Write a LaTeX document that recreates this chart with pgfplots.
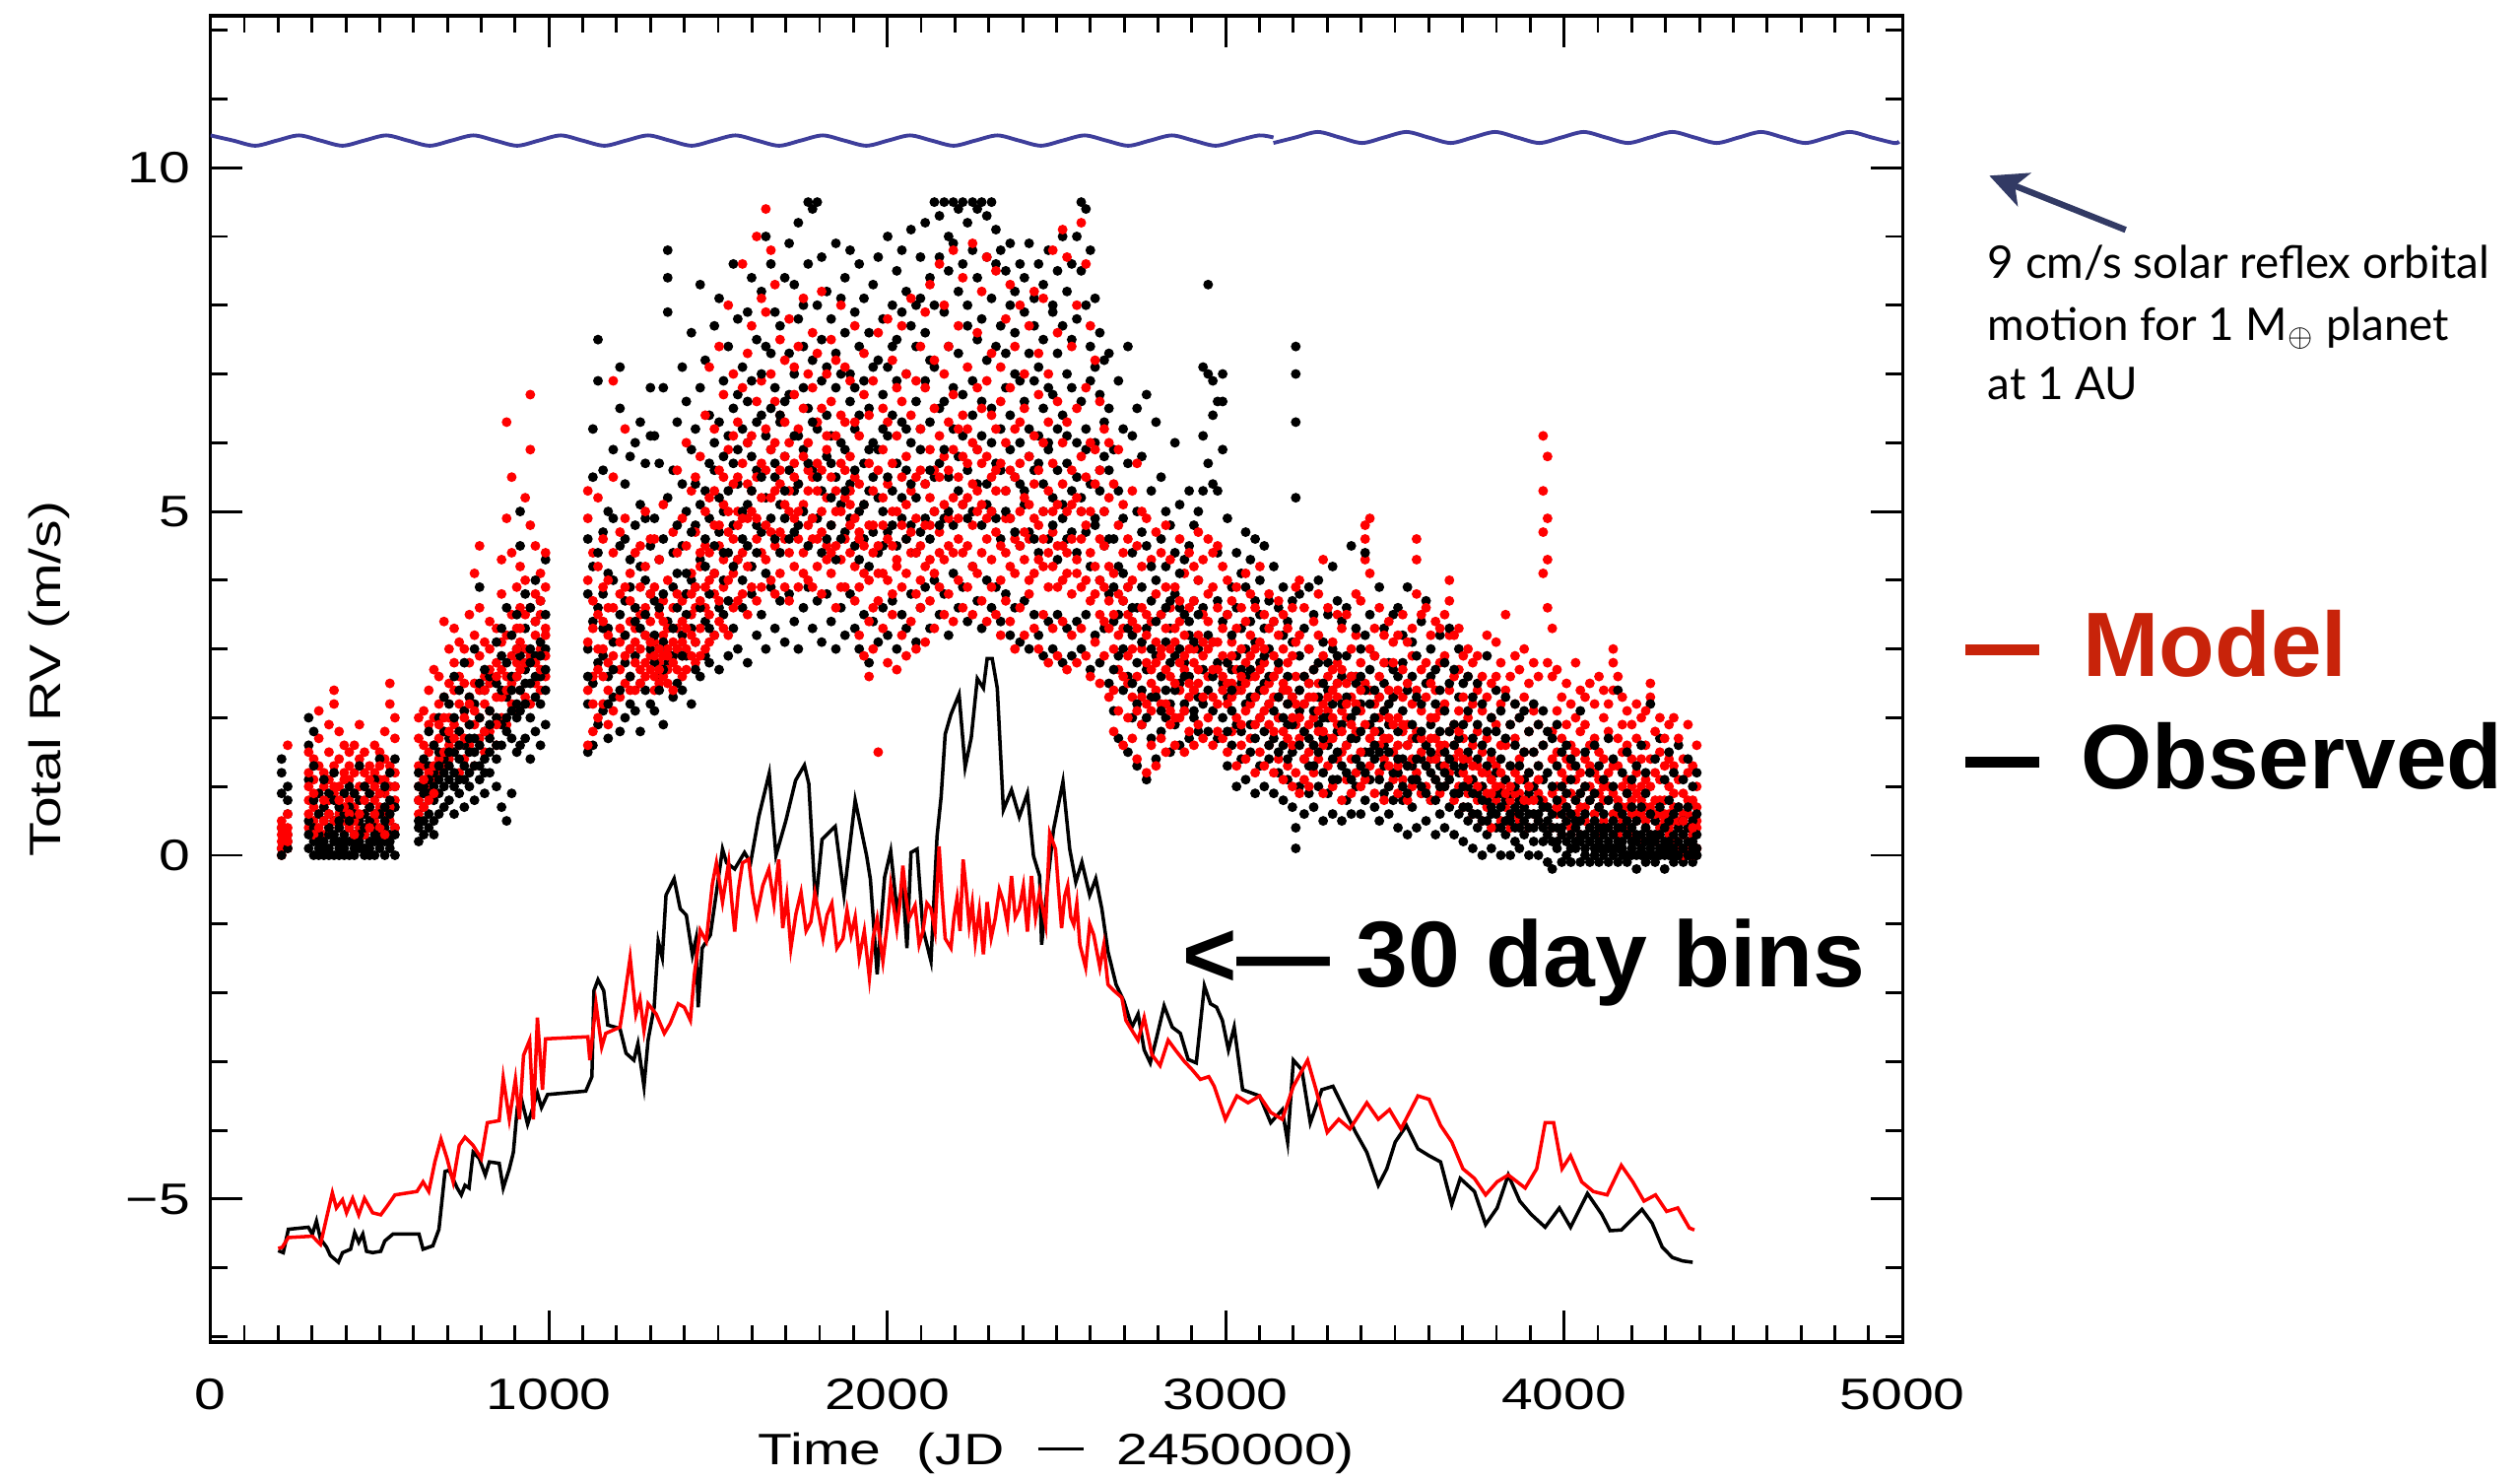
\documentclass[border=0pt]{standalone}
\usepackage{fontspec}
\usepackage{pgfplots}
\pgfplotsset{compat=1.18}
\usepackage{pgfplotstable}
\usetikzlibrary{arrows.meta}
\setmainfont{Liberation Sans}
\newfontfamily\tickfont{Liberation Sans}[FakeStretch=1.28]
\newfontfamily\gillfont{Lato}
\definecolor{wave}{RGB}{62,62,155}
\definecolor{arrowc}{RGB}{50,58,100}
\definecolor{modelred}{RGB}{200,35,10}
\newcommand\tf{\tickfont\fontsize{12.7pt}{15pt}\selectfont}

\pgfplotstableread{
x b1 b2 b3 b4 b5 b6 r1 r2 r3 r4 r5 r6
210 0.1 0.4 0.9 1.2 1.4 0.0 0.0 0.2 0.3 0.1 0.5 0.4
228 0.2 0.3 0.6 1.0 0.1 0.8 0.1 0.4 0.6 0.3 1.6 0.2
290 0.1 0.5 1.1 1.6 2.0 0.3 0.4 0.8 1.2 0.6 1.0 1.5
305 0.0 0.2 0.4 0.8 1.3 1.8 0.5 1.1 0.7 1.4 0.3 0.9
320 0.1 0.0 0.3 0.6 0.9 0.2 0.6 0.9 1.3 0.4 1.7 2.1
335 0.0 0.1 0.5 0.2 0.7 1.1 0.3 0.7 1.0 1.2 0.5 0.8
350 0.1 0.3 0.0 0.6 0.4 0.9 0.8 0.4 1.1 1.5 0.6 1.9
365 0.2 0.0 0.5 0.3 0.8 1.2 0.9 1.3 0.5 2.4 2.2 1.0
380 0.0 0.2 0.1 0.4 0.7 0.5 0.6 1.0 0.4 1.4 0.8 1.8
395 0.1 0.3 0.6 0.0 0.9 0.2 0.5 0.9 1.2 0.7 1.6 1.1
410 0.0 0.4 0.2 0.7 1.0 0.5 0.8 1.1 0.4 1.3 0.6 1.5
425 0.1 0.0 0.3 0.6 0.2 0.9 0.7 1.2 0.5 0.9 1.6 0.3
440 0.2 0.1 0.5 0.3 0.8 1.3 0.4 0.8 1.0 1.4 0.6 1.9
455 0.0 0.3 0.1 0.6 0.4 1.0 0.6 1.0 0.3 1.2 0.8 1.5
470 0.1 0.2 0.5 0.0 0.7 0.9 0.9 0.5 1.3 0.7 1.1 0.4
485 0.0 0.4 0.2 0.6 1.1 0.3 0.5 0.8 1.2 0.6 1.6 1.0
500 0.1 0.3 0.6 0.2 0.9 1.4 0.7 1.1 0.4 1.5 0.9 1.3
515 0.2 0.0 0.4 0.7 0.5 1.0 0.6 0.9 1.4 0.3 1.1 1.8
530 0.1 0.3 0.2 0.6 0.8 1.2 0.5 1.0 0.7 1.3 2.2 2.5
545 0.0 0.4 0.7 0.3 1.0 1.4 0.8 0.4 1.2 1.7 2.0 1.0
615 0.2 0.5 0.8 1.2 0.4 1.0 0.6 1.0 1.3 0.8 1.7 2.0
630 0.3 0.7 1.0 0.5 1.4 0.9 0.9 1.3 1.6 0.7 2.1 1.1
645 0.4 0.9 1.3 0.6 1.1 1.8 1.0 1.5 1.2 1.9 2.4 0.8
660 0.5 0.8 1.2 1.6 1.0 0.3 1.1 1.6 2.0 1.3 2.7 0.9
675 0.6 1.1 0.9 1.5 2.0 1.3 1.2 1.7 1.4 2.2 1.9 2.6
690 0.7 1.0 1.4 1.8 1.2 2.3 1.3 1.8 2.3 1.5 3.4 2.0
705 0.8 1.3 1.1 1.7 2.2 1.5 1.4 2.0 1.6 2.5 3.0 1.8
720 0.6 1.2 1.5 2.0 1.0 2.6 1.5 1.9 2.4 1.7 2.8 3.3
735 0.9 1.4 1.8 1.1 2.4 1.6 1.2 1.8 2.2 2.6 1.6 3.1
750 0.7 1.1 1.6 2.1 1.3 2.8 1.4 2.1 1.7 2.5 3.0 2.0
765 1.0 1.5 1.2 1.9 2.3 1.7 1.6 2.3 1.9 2.8 3.5 2.2
780 0.8 1.3 1.7 2.2 3.0 1.5 1.3 1.9 2.5 2.1 3.2 4.1
795 1.1 1.6 1.3 2.0 3.9 2.5 1.7 2.4 2.0 2.9 4.5 3.6
810 0.9 1.4 1.8 2.4 1.2 2.7 1.5 2.2 1.8 2.6 3.1 2.4
825 1.2 1.7 1.5 2.1 2.6 1.9 1.8 2.5 2.1 3.0 2.7 3.4
845 1.0 1.6 2.0 2.5 1.4 3.1 1.6 2.3 2.8 1.9 3.3 2.6
860 0.7 1.9 1.6 2.4 2.9 3.3 2.0 2.7 2.3 3.1 3.8 4.3
875 0.5 1.8 2.3 2.0 2.8 3.6 1.9 2.6 3.2 2.4 4.9 6.3
890 0.9 2.1 1.7 2.6 3.2 2.4 2.2 2.9 2.5 3.5 4.4 5.5
905 1.5 2.0 2.6 3.0 2.2 3.5 2.1 2.8 3.3 2.6 3.9 3.0
915 1.6 2.4 2.9 4.5 5.0 2.1 2.4 3.1 2.7 3.6 4.2 3.3
930 1.7 2.2 2.7 3.3 2.5 3.8 2.3 3.0 3.5 2.8 4.0 5.2
945 1.4 2.5 2.0 3.0 3.6 2.8 2.2 2.9 3.6 4.8 5.9 6.7
960 1.8 2.3 2.9 2.6 3.4 4.0 2.5 3.2 2.8 3.8 4.5 3.4
975 1.6 2.6 2.2 3.1 3.7 2.9 2.4 3.0 3.5 2.7 4.1 3.7
990 1.9 2.4 3.0 3.5 2.7 4.3 2.6 3.3 2.9 3.9 3.2 4.4
1115 1.5 2.2 3.0 3.8 4.6 2.6 1.6 2.4 3.1 4.0 4.9 5.3
1130 1.6 2.5 3.4 4.2 5.5 6.2 1.8 2.6 3.3 2.2 4.4 3.7
1145 1.9 2.8 3.6 6.9 7.5 4.4 2.0 2.7 3.5 4.2 5.2 3.0
1160 2.1 2.9 3.8 4.7 5.6 3.3 2.2 3.0 3.9 2.6 4.6 3.4
1175 1.7 2.6 3.3 4.1 2.2 5.0 1.9 2.8 3.2 2.4 4.0 3.6
1190 2.3 3.1 4.0 4.9 5.9 2.7 2.1 2.9 3.6 4.4 5.5 6.9
1210 1.8 2.4 3.5 4.5 6.5 7.1 2.3 3.1 2.7 3.8 4.7 3.3
1225 2.0 2.8 3.7 4.6 5.4 3.2 2.5 3.2 2.9 3.9 4.9 6.2
1240 2.2 3.0 3.9 4.3 5.8 2.6 2.6 3.4 3.0 2.4 4.1 3.7
1255 2.1 2.9 3.4 4.8 6.0 3.6 2.4 3.3 2.8 3.6 4.4 3.1
1270 1.8 2.5 3.3 4.2 5.1 6.3 2.7 3.5 3.0 2.5 4.5 3.9
1285 2.4 3.2 4.0 4.9 5.7 3.5 2.8 3.6 3.2 4.2 2.6 5.0
1300 2.2 3.0 3.8 4.5 6.1 6.8 2.9 3.4 2.7 3.8 4.6 3.1
1312 2.1 3.7 2.8 4.9 3.2 6.1 2.6 3.1 2.4 3.9 2.9 4.6
1326 2.6 4.3 3.0 5.7 2.4 3.6 2.8 3.5 2.5 4.3 3.0 2.7
1338 1.9 3.1 4.6 2.7 6.8 3.8 3.2 2.6 3.7 2.9 5.1 3.4
1351 2.8 5.2 3.4 7.9 8.8 8.4 2.5 3.0 2.7 4.0 3.3 2.9
1367 2.3 3.9 2.9 4.4 5.6 3.3 2.9 2.4 3.6 3.1 4.7 2.8
1379 3.0 2.5 4.1 3.6 6.3 4.8 3.3 2.7 3.0 4.4 3.8 5.6
1394 2.4 4.5 3.2 5.4 2.9 7.1 2.6 3.4 2.9 3.7 4.9 3.1
1406 2.9 3.5 5.0 4.1 6.6 3.8 3.0 3.8 2.7 4.5 3.3 6.0
1421 2.2 4.0 3.3 5.9 4.7 7.6 3.5 2.9 4.1 3.2 5.3 3.8
1433 3.1 2.7 4.8 3.9 6.2 5.4 2.8 3.6 3.1 4.7 3.9 5.5
1447 2.6 4.3 3.6 6.8 5.1 8.3 3.3 4.2 2.9 3.7 5.8 4.4
1462 3.4 2.9 5.3 4.2 7.2 4.6 3.6 3.0 4.5 3.9 5.0 6.4
1474 2.8 4.9 3.8 5.7 6.4 3.3 3.1 4.0 3.5 5.2 4.4 7.1
1489 3.2 4.1 5.6 4.5 7.7 6.0 3.8 3.2 4.8 4.1 6.2 5.3
1503 2.7 3.6 4.7 6.3 5.2 8.1 3.4 4.5 3.7 5.6 4.8 7.4
1516 3.5 5.0 4.0 6.9 5.8 4.4 3.9 3.3 5.1 4.3 6.7 5.5
1530 2.9 4.4 6.1 5.3 7.4 3.7 3.2 4.7 4.0 5.9 5.0 8.0
1545 3.3 4.8 5.7 4.2 6.5 8.6 4.1 3.6 5.4 4.6 7.0 6.1
1558 3.0 5.4 4.3 6.7 5.9 7.8 3.7 5.0 4.3 6.3 5.5 4.8
1572 3.6 4.6 6.2 5.0 7.1 4.0 4.4 3.8 5.7 4.9 6.8 8.6
1587 2.8 5.1 4.5 6.0 7.9 6.6 3.5 4.9 4.2 5.4 7.3 6.0
1599 3.8 4.2 5.8 6.9 5.3 8.4 4.2 5.3 3.9 6.1 5.0 7.7
1614 3.2 5.6 4.8 6.3 7.5 4.4 4.6 3.7 5.5 4.9 6.6 9.0
1628 3.5 4.7 6.4 5.5 8.2 7.0 3.9 5.2 4.4 6.9 5.7 8.1
1641 3.0 5.2 4.1 6.1 7.4 9.0 4.3 5.6 4.8 6.2 7.9 9.4
1656 3.9 4.9 5.9 7.3 6.5 8.6 4.0 4.7 5.9 5.2 7.0 8.8
1668 3.3 5.5 4.6 6.8 5.7 7.9 4.5 3.8 5.3 6.6 6.0 8.3
1683 3.7 4.4 6.3 5.1 7.7 6.4 4.1 5.4 4.7 6.4 5.6 7.5
1697 3.1 5.8 4.9 6.6 8.4 5.3 4.6 3.9 5.8 5.1 7.2 6.3
1710 3.8 4.6 6.7 5.6 7.3 8.9 3.7 5.0 4.4 6.0 5.3 7.8
1725 3.4 5.3 4.7 7.0 6.1 8.3 4.2 5.7 4.9 6.7 5.5 7.1
1737 3.0 4.8 6.1 5.4 7.8 9.2 3.9 4.6 5.4 6.2 7.4 5.0
1752 3.6 5.9 5.0 6.8 7.4 8.0 4.4 5.1 4.1 6.5 5.8 8.1
1766 3.9 4.5 6.5 5.7 8.6 9.5 4.0 5.6 4.8 6.0 7.0 5.3
1779 3.3 5.6 4.9 7.2 6.3 9.4 4.6 3.9 5.5 4.9 6.8 7.6
1793 3.7 4.9 6.2 5.5 8.0 9.5 4.2 5.3 4.6 6.3 5.7 7.3
1806 3.1 5.3 4.4 6.9 7.5 8.7 3.8 4.7 5.6 5.0 6.5 8.2
1821 3.8 4.6 5.8 6.4 7.1 8.2 4.5 5.2 4.3 5.9 7.0 6.1
1834 3.4 5.7 4.8 6.1 7.8 5.2 4.1 4.8 5.5 4.4 6.6 7.5
1848 3.0 4.3 5.5 6.8 7.3 8.9 3.6 5.0 4.5 6.1 5.3 7.2
1863 3.6 5.1 4.6 6.0 8.1 7.0 4.3 3.9 5.7 5.0 6.4 8.0
1875 3.2 4.7 5.9 5.3 7.6 8.4 3.9 4.6 5.2 6.3 5.6 7.1
1890 3.8 5.4 4.9 6.6 7.0 8.8 4.4 5.3 4.8 5.8 6.9 5.1
1904 3.3 4.5 6.2 5.6 7.9 6.8 3.7 4.2 5.5 4.9 6.3 7.7
1917 3.0 5.0 4.3 6.4 7.4 8.6 3.2 4.6 3.9 5.4 6.1 4.7
1931 3.5 4.6 5.7 5.1 6.9 8.1 2.9 4.1 5.1 4.5 6.7 7.3
1946 2.8 4.2 5.3 6.5 7.6 5.9 3.4 2.6 4.8 4.0 5.7 6.4
1958 3.4 5.5 4.7 6.0 8.3 7.1 3.0 4.4 3.6 5.3 4.8 6.9
1973 3.1 4.4 5.9 5.2 7.2 8.7 1.5 3.7 4.5 5.6 4.1 7.6
1987 3.6 5.0 4.5 6.7 7.8 6.2 3.3 4.8 4.1 5.9 5.2 6.5
2001 3.2 4.7 6.1 5.5 7.1 9.0 2.8 4.0 5.4 4.6 6.3 7.8
2015 3.7 5.3 4.8 6.4 8.0 7.4 3.5 4.5 3.8 5.7 5.0 7.2
2028 3.0 4.5 5.7 6.9 7.5 8.5 2.7 4.2 5.0 4.3 6.1 6.8
2043 3.5 4.9 5.2 6.3 7.9 8.8 3.2 3.9 5.5 4.8 6.6 7.7
2056 3.3 5.6 4.6 7.0 6.2 8.2 2.9 4.6 4.1 5.8 5.1 7.0
2070 3.8 4.8 6.0 5.4 7.7 9.1 3.4 4.4 5.3 4.7 6.4 8.1
2085 3.1 5.2 4.4 6.6 7.4 8.0 3.0 3.8 4.9 5.5 4.4 6.9
2098 3.6 4.7 5.9 6.2 8.1 8.7 3.6 4.5 4.0 5.6 6.2 7.4
2112 3.9 5.4 4.9 6.9 7.6 9.2 3.1 4.2 5.4 4.8 6.8 7.9
2126 3.3 4.6 6.3 5.6 8.4 7.2 3.7 4.8 4.3 5.9 5.2 8.3
2139 4.0 5.0 5.5 7.1 8.0 9.5 3.3 4.1 5.6 5.0 6.5 7.2
2154 3.5 5.7 4.8 6.5 8.7 9.3 3.9 4.7 4.4 6.1 5.5 8.6
2168 3.8 4.9 6.6 5.9 7.9 9.5 3.5 4.3 5.8 5.1 7.0 8.0
2181 3.2 5.5 5.0 7.4 8.5 9.0 3.8 4.9 4.5 6.3 5.6 7.4
2195 4.1 4.8 6.2 6.8 8.9 9.5 3.4 4.4 5.2 5.9 6.7 8.8
2210 3.6 5.8 5.3 7.3 8.2 9.4 4.0 4.6 5.5 4.9 6.2 7.7
2223 3.9 5.1 6.7 6.1 8.6 9.5 3.6 5.1 4.4 6.4 5.8 8.4
2237 3.4 5.6 4.9 7.7 8.0 9.2 3.9 4.5 5.7 5.2 7.1 6.2
2252 4.2 5.0 6.4 6.9 8.8 9.5 3.5 4.8 4.2 6.0 5.4 8.9
2266 3.7 5.9 5.4 7.5 8.4 9.4 4.1 5.0 5.9 5.3 6.8 7.6
2279 3.3 4.8 6.1 6.6 7.8 9.5 3.7 4.4 5.1 6.5 5.7 8.2
2294 4.0 5.4 5.1 7.2 8.7 9.3 3.4 4.9 4.6 5.8 6.9 8.7
2308 3.6 5.0 6.5 6.0 8.1 9.5 3.9 4.3 5.5 5.0 6.4 7.3
2321 3.9 5.7 4.9 7.4 8.6 9.1 3.5 4.7 5.3 6.2 5.6 8.5
2335 3.4 4.6 6.2 5.6 7.7 8.8 3.2 4.5 4.0 5.7 6.6 7.1
2350 3.8 5.3 5.0 6.8 7.3 8.5 3.7 4.9 4.4 6.0 5.3 7.8
2363 3.2 4.9 5.9 6.4 8.0 8.9 3.4 4.2 5.6 4.9 6.8 8.3
2377 3.6 5.5 4.7 7.0 7.6 8.2 3.0 4.6 4.1 5.5 6.2 7.4
2392 3.1 4.5 6.0 5.4 6.9 8.6 3.6 5.0 4.5 6.3 5.7 8.0
2405 3.7 5.1 5.3 6.6 7.9 8.4 3.2 4.3 5.2 4.7 6.5 7.0
2419 3.0 4.7 5.8 6.2 7.3 8.9 3.8 4.6 4.0 5.8 5.1 7.7
2434 3.5 5.6 4.6 6.9 7.7 8.1 3.3 4.1 5.4 4.9 6.1 8.2
2447 3.2 4.4 6.1 5.7 7.1 8.6 3.0 4.8 4.3 5.6 6.7 7.3
2461 2.9 5.0 5.4 6.5 7.5 8.3 3.5 4.2 5.0 4.6 6.0 8.1
2476 3.4 4.6 5.9 6.0 6.8 8.8 2.8 4.4 3.9 5.3 6.3 7.0
2489 3.0 5.2 4.8 6.7 7.9 8.0 3.3 4.7 4.2 5.7 5.0 8.8
2503 3.5 4.3 6.2 5.6 7.3 8.5 2.9 3.9 5.1 4.5 6.6 7.6
2518 2.8 4.9 5.1 6.4 7.7 9.0 3.4 4.5 4.0 5.4 6.0 9.1
2531 3.3 4.6 5.7 6.1 7.0 8.2 2.7 4.1 5.0 4.4 6.3 8.7
2545 2.9 5.3 4.7 6.8 7.5 8.6 3.2 3.8 4.6 5.6 5.1 7.4
2560 3.4 4.4 6.0 5.5 7.8 9.0 2.8 4.3 4.1 5.2 6.5 8.0
2573 3.0 5.0 5.2 6.6 8.5 9.5 3.3 4.6 3.9 5.8 5.0 9.2
2587 3.5 4.7 5.9 6.2 8.0 9.4 2.9 4.0 4.8 5.5 6.8 8.6
2600 2.7 4.2 5.4 6.9 7.4 8.8 2.6 3.7 4.4 5.0 6.0 7.7
2614 3.2 4.8 4.9 6.0 7.1 8.1 3.1 4.2 3.8 5.4 5.9 7.2
2628 2.8 4.0 5.6 5.3 6.7 7.6 2.5 3.5 4.6 4.0 5.6 6.6
2641 3.3 4.5 5.0 6.3 7.2 5.8 2.9 3.9 3.4 5.0 4.5 6.2
2655 2.5 3.8 4.6 5.6 6.5 7.3 2.3 3.3 4.2 3.7 5.2 6.0
2669 2.1 3.4 2.7 4.6 5.9 3.9 1.8 3.0 2.4 4.1 3.5 5.4
2683 1.7 2.9 4.2 3.5 5.3 6.9 2.1 2.7 3.8 3.2 4.8 5.9
2697 2.4 3.7 3.0 4.9 4.1 6.2 1.6 3.3 2.6 4.4 3.7 5.1
2711 1.5 2.6 3.9 3.3 5.7 7.4 2.0 2.5 3.5 2.9 4.6 3.9
2724 2.0 3.2 2.5 4.4 6.1 3.6 1.7 3.0 2.3 4.0 5.3 3.4
2738 1.3 2.8 3.6 2.2 5.0 6.5 1.4 2.6 3.3 2.1 4.5 5.7
2752 1.9 2.4 3.9 4.7 3.1 5.8 1.9 2.3 3.6 3.0 4.2 5.0
2766 1.1 2.7 3.3 2.0 4.5 6.7 1.2 2.8 2.2 3.5 4.9 3.2
2780 1.7 2.3 3.7 3.0 5.3 4.2 1.6 2.1 3.4 2.7 4.3 2.5
2794 1.4 2.9 2.3 4.0 3.4 6.3 1.3 2.4 3.1 3.8 2.8 4.7
2809 1.8 2.6 3.5 2.1 4.6 5.5 1.7 2.9 2.2 3.5 4.4 3.0
2823 2.0 3.1 2.4 4.2 3.6 5.0 1.5 2.2 3.3 2.7 3.9 4.8
2836 1.5 2.2 3.3 2.8 4.8 3.7 1.9 2.6 2.1 3.6 3.0 4.3
2850 1.9 2.9 2.4 3.8 4.4 6.0 1.6 3.1 2.5 3.9 3.3 2.0
2864 1.6 2.5 3.6 3.0 5.1 4.1 2.0 2.4 3.4 2.8 4.6 3.7
2878 2.1 2.8 2.2 3.5 4.3 2.6 1.5 2.7 2.1 3.2 4.1 2.9
2892 1.7 3.2 2.6 4.5 3.4 5.3 1.8 2.3 3.6 3.0 4.4 2.5
2906 2.0 2.4 3.7 3.1 4.8 2.1 1.6 3.0 2.4 3.7 2.8 4.2
2919 1.8 3.0 2.3 4.0 3.5 5.0 1.9 2.5 3.2 2.7 4.0 4.7
2933 2.2 2.7 3.6 5.3 6.1 7.1 1.7 2.9 2.3 3.5 4.3 3.1
2948 1.8 2.4 3.2 5.7 7.0 8.3 2.0 2.6 3.4 3.0 4.6 3.8
2962 2.1 3.1 2.6 5.4 6.4 6.9 1.6 2.3 3.1 2.7 3.9 4.4
2976 1.7 2.8 3.7 4.4 5.3 6.6 1.8 2.7 2.2 3.6 3.1 4.5
2991 2.0 2.5 3.4 5.9 6.6 7.0 1.7 2.4 3.3 2.9 4.2 2.6
3005 1.3 2.3 1.8 3.5 2.8 4.9 1.5 2.2 2.8 3.5 2.5 4.0
3018 1.6 2.7 2.1 3.9 3.2 2.4 1.8 2.5 3.1 2.3 3.7 2.9
3032 1.0 1.9 2.9 2.4 3.6 4.4 1.3 2.0 2.7 3.3 2.4 3.9
3046 1.4 2.5 1.8 3.3 2.7 4.1 1.6 2.4 1.9 3.0 3.6 2.6
3059 1.1 2.2 3.0 2.6 3.9 4.7 1.4 2.1 2.8 2.5 3.4 4.1
3073 1.5 1.9 2.7 3.4 2.3 4.3 1.7 2.6 2.2 3.2 2.9 3.8
3087 0.9 2.3 1.7 3.1 3.7 4.6 1.2 1.9 2.6 3.0 2.3 3.6
3101 1.3 2.0 2.8 2.4 3.5 4.0 1.5 2.4 2.0 3.1 2.7 4.2
3114 1.0 1.8 2.5 3.3 2.9 4.5 1.3 2.1 2.8 2.4 3.5 3.0
3128 1.4 2.2 1.6 3.0 3.7 2.6 1.6 1.9 2.5 3.3 2.2 3.8
3142 0.9 1.7 2.6 2.1 3.4 4.2 1.2 2.3 1.8 2.9 3.4 2.6
3156 1.2 2.0 1.5 2.8 3.6 2.3 1.4 2.0 2.7 2.3 3.2 3.7
3170 0.8 1.6 2.4 3.2 2.0 3.9 1.1 1.8 2.4 3.0 2.5 3.5
3183 1.1 1.9 1.4 2.6 3.4 2.2 1.3 2.2 1.7 2.8 3.3 2.4
3197 0.7 1.5 2.3 1.9 3.1 3.7 1.0 1.6 2.3 2.0 2.9 3.6
3207 0.1 0.4 5.2 6.3 7.0 7.4 1.2 1.9 2.6 2.2 3.1 3.9
3218 1.0 2.1 1.6 2.9 2.4 3.8 0.9 1.7 2.4 2.0 3.2 4.0
3232 0.6 1.4 2.2 1.8 3.3 2.6 1.1 1.8 1.4 2.6 2.2 3.6
3246 0.9 1.7 1.3 2.5 3.0 3.9 1.0 1.5 2.3 1.9 3.0 2.5
3260 0.7 1.3 2.1 1.6 2.7 3.5 1.2 2.0 1.6 2.7 2.3 3.4
3274 1.0 1.9 1.5 2.8 2.3 4.0 1.4 1.8 2.5 2.1 3.2 3.8
3288 0.5 1.2 2.0 1.7 3.1 2.5 0.9 1.6 2.2 1.8 2.9 4.3
3302 0.9 1.6 2.4 2.0 2.8 3.5 1.3 2.1 1.7 2.6 2.3 3.6
3316 0.6 1.4 1.1 2.2 3.0 4.2 1.0 1.7 2.4 2.0 3.1 2.7
3330 1.1 1.8 2.5 1.5 2.9 3.7 1.4 1.9 2.8 2.3 3.5 2.5
3343 0.5 1.3 1.9 2.6 2.2 3.4 0.8 1.5 2.1 1.8 2.7 3.3
3357 0.8 1.6 1.2 2.3 2.9 3.6 1.1 2.0 1.6 2.5 2.2 3.5
3371 0.6 1.1 2.0 1.7 2.6 4.5 0.9 1.4 2.3 1.9 3.0 2.6
3385 1.0 1.7 1.4 2.5 2.1 3.3 1.2 1.8 2.6 2.2 3.2 3.8
3399 0.6 1.3 2.2 1.8 3.0 2.6 1.0 1.5 2.1 2.8 2.4 3.7
3412 0.8 1.5 1.2 2.4 3.2 4.4 1.1 1.9 2.5 4.3 4.6 4.8
3426 1.1 1.9 1.5 2.7 2.2 3.5 1.3 1.7 2.4 3.0 4.1 4.9
3440 0.7 1.4 2.0 1.6 2.9 2.4 0.9 1.6 2.2 1.8 2.9 3.3
3454 0.5 1.1 1.8 2.3 1.5 3.9 1.2 2.0 1.6 2.6 2.3 3.6
3468 0.9 1.6 1.3 2.5 2.1 3.3 0.8 1.4 2.1 1.7 2.8 3.2
3482 0.6 1.0 1.9 1.5 2.8 2.2 1.0 1.7 1.3 2.4 2.0 3.4
3495 0.8 1.5 1.2 2.3 2.7 3.5 1.1 1.5 2.3 1.9 2.8 3.1
3509 0.4 1.2 1.8 1.4 2.6 3.6 0.9 1.6 1.3 2.4 2.0 3.2
3523 0.8 1.4 1.0 2.1 2.8 3.2 1.1 1.8 2.3 1.9 2.7 3.5
3537 0.3 0.9 1.6 1.3 2.4 3.9 0.8 1.3 1.9 1.6 2.5 3.1
3551 0.7 1.3 1.1 1.9 2.6 3.1 1.0 1.7 1.4 2.2 2.9 3.3
3564 0.4 1.1 1.7 1.4 2.3 2.9 1.2 1.8 2.4 3.8 4.3 4.6
3578 0.9 1.4 1.0 2.2 1.8 3.4 0.9 1.5 2.1 1.7 2.7 3.5
3592 0.5 0.9 1.6 1.3 2.5 3.7 1.0 1.6 1.3 2.3 2.8 3.6
3606 0.8 1.2 1.9 1.5 2.6 3.0 0.8 1.4 2.0 1.7 2.5 3.2
3620 0.3 0.8 1.4 1.1 2.2 2.7 1.1 1.7 1.4 2.4 2.0 3.4
3633 0.6 1.3 1.0 1.8 2.4 3.2 0.9 1.5 2.1 1.6 2.8 3.3
3647 0.4 1.0 1.5 1.2 2.1 2.8 1.0 1.6 1.3 2.2 2.9 3.5
3661 0.7 1.1 1.8 1.4 2.5 3.3 1.2 1.8 2.4 3.2 3.7 4.0
3675 0.3 0.9 1.3 1.9 1.6 2.7 0.8 1.4 1.9 1.6 2.6 3.2
3689 0.6 1.2 0.9 1.7 2.3 3.0 1.0 1.5 2.1 1.8 2.7 3.3
3702 0.2 0.7 1.3 1.0 1.9 2.5 0.7 1.2 1.7 1.4 2.3 2.9
3716 0.5 1.0 0.7 1.5 2.1 2.6 0.9 1.4 1.1 2.0 2.6 3.0
3730 0.1 0.6 1.1 0.9 1.7 2.3 0.6 1.1 1.6 1.3 2.2 2.8
3744 0.4 0.9 0.6 1.4 1.9 2.5 0.8 1.3 1.0 1.8 2.4 2.9
3758 0.0 0.5 1.0 0.8 1.6 2.2 0.5 1.0 1.5 1.2 2.1 2.6
3772 0.3 0.8 0.5 1.3 1.8 2.9 0.7 1.2 0.9 1.7 2.3 3.2
3785 0.1 0.6 1.1 0.7 1.5 2.0 0.4 0.9 1.4 1.1 2.0 2.5
3799 0.4 0.9 0.6 1.2 1.8 2.4 0.8 1.3 1.0 1.9 2.6 3.1
3813 0.0 0.4 0.9 0.7 1.4 2.1 0.5 1.0 1.6 1.2 2.2 2.8
3827 0.3 0.8 0.5 1.1 1.7 2.3 0.7 1.1 0.9 1.6 2.4 3.5
3841 0.0 0.5 0.9 0.6 1.3 1.9 0.4 0.8 1.3 1.0 1.9 2.6
3855 0.2 0.7 0.4 1.0 1.6 2.2 0.6 1.2 0.9 1.7 2.2 2.9
3868 0.1 0.4 0.8 0.6 1.3 2.0 0.5 0.9 1.4 1.1 2.0 2.7
3882 0.3 0.7 0.5 1.1 1.5 2.1 0.7 1.1 0.8 1.5 2.3 3.0
3896 0.0 0.4 0.9 0.6 1.2 1.8 0.4 0.8 1.2 1.0 1.8 2.5
3910 0.2 0.6 0.4 1.0 1.5 2.2 0.6 1.0 0.8 1.5 2.1 2.8
3924 0.0 0.5 0.8 0.6 1.3 1.9 0.5 0.9 1.3 1.1 1.9 2.6
3938 0.2 0.7 0.4 1.1 1.6 2.1 0.8 1.6 4.1 4.7 5.3 6.1
3951 -0.1 0.3 0.7 0.5 1.2 1.8 0.7 2.8 3.6 4.3 4.9 5.8
3965 -0.2 0.2 0.6 0.4 1.0 1.7 0.4 0.9 1.4 1.8 2.6 3.3
3979 0.1 0.4 0.2 0.8 1.3 1.9 0.6 1.0 0.7 1.5 2.1 2.7
3993 -0.1 0.3 0.6 0.4 1.0 1.5 0.3 0.8 1.2 1.0 1.7 2.3
4007 0.0 0.2 0.5 0.9 0.7 1.6 0.5 0.7 1.1 1.4 1.9 2.5
4020 -0.1 0.3 0.1 0.6 1.1 1.4 0.4 0.9 0.6 1.3 1.6 2.2
4034 0.1 0.4 0.2 0.8 0.5 1.3 0.6 1.1 0.8 1.5 2.0 2.8
4048 -0.1 0.2 0.5 0.3 0.9 2.1 0.3 0.7 1.2 0.9 1.8 2.4
4062 0.0 0.3 0.1 0.6 1.0 1.5 0.5 1.0 0.7 1.4 1.9 2.3
4076 -0.1 0.2 0.4 0.2 0.8 1.2 0.4 0.8 1.3 1.0 1.6 2.5
4090 0.1 0.3 0.0 0.5 0.9 1.6 0.6 0.9 0.6 1.2 1.7 2.2
4103 -0.1 0.1 0.4 0.2 0.7 1.3 0.3 0.7 1.1 0.9 1.5 2.6
4117 0.0 0.3 0.1 0.6 0.4 1.1 0.5 1.0 0.8 1.4 2.0 2.4
4131 -0.1 0.2 0.4 0.1 0.8 1.7 0.4 0.8 1.2 1.0 1.8 2.2
4145 0.1 0.3 0.0 0.5 1.0 1.4 0.6 0.9 1.3 2.4 2.8 3.0
4159 -0.1 0.1 0.4 0.2 0.7 2.4 0.3 0.8 0.6 1.3 1.7 2.6
4172 0.0 0.2 0.1 0.6 0.4 1.2 0.5 1.0 0.7 1.5 1.9 2.3
4186 -0.1 0.3 0.0 0.5 0.9 1.5 0.4 0.7 1.1 0.9 1.6 2.1
4200 0.0 0.1 0.4 0.2 0.7 1.1 0.3 0.6 1.0 0.8 1.4 1.9
4214 -0.2 0.2 0.0 0.5 0.3 1.3 0.5 0.9 0.6 1.2 1.7 2.2
4228 0.0 0.1 0.3 0.1 0.7 1.6 0.2 0.6 1.0 0.8 1.4 2.0
4241 -0.1 0.2 0.0 0.4 0.9 1.2 0.4 0.7 0.5 1.1 1.6 2.1
4255 0.0 0.1 0.3 0.2 0.6 2.2 0.3 0.7 1.0 1.4 2.3 2.5
4269 -0.1 0.2 0.0 0.5 0.3 1.4 0.2 0.5 0.8 0.6 1.2 1.8
4283 0.0 0.1 0.3 0.1 0.7 1.7 0.4 0.8 0.6 1.1 1.5 2.0
4297 -0.2 0.1 0.0 0.4 0.2 1.1 0.1 0.5 0.8 0.6 1.3 1.7
4310 0.0 0.2 0.1 0.5 0.8 1.5 0.3 0.6 0.4 1.0 1.4 1.9
4324 -0.1 0.1 0.3 0.0 0.6 1.2 0.2 0.5 0.9 0.7 1.3 2.0
4338 0.0 0.2 0.0 0.4 0.7 1.6 0.1 0.4 0.7 0.5 1.1 1.7
4352 -0.1 0.1 0.3 0.1 0.5 1.1 0.0 0.3 0.6 0.9 1.4 0.5
4366 0.0 0.2 0.0 0.4 0.7 1.4 0.1 0.4 0.8 0.6 1.2 1.9
4380 -0.1 0.0 0.2 0.1 0.5 1.0 0.0 0.3 0.5 0.8 1.3 0.4
4392 0.0 0.1 0.3 0.0 0.6 1.2 0.1 0.4 0.7 0.5 1.0 1.6
}\rvdata

\begin{document}
\begin{tikzpicture}
\useasboundingbox (-21.37mm,-13.8mm) rectangle (234.43mm,136.2mm);
\begin{axis}[
  at={(0,0)}, anchor=south west, scale only axis,
  width=171.75mm, height=134.6mm,
  xmin=0, xmax=5000, ymin=-7.08, ymax=12.21,
  xtick={0,1000,2000,3000,4000,5000},
  xticklabels={0,1000,2000,3000,4000,5000},
  minor xtick={0,100,...,5000},
  ytick={-5,0,5,10}, yticklabels={−5,0,5,10},
  minor ytick={-7,-6,...,12},
  tick align=inside,
  major tick length=3.2mm, minor tick length=1.7mm,
  every tick/.style={black, line width=0.8pt},
  axis line style={line width=0.9pt},
  xticklabel style={font=\tf, anchor=base, inner sep=0pt, yshift=-6.8mm},
  yticklabel style={font=\tf, anchor=east, inner sep=0pt, xshift=-2mm},
  xlabel={Time\hspace{3.6mm}(JD\hspace{3.4mm}\rule[1.45mm]{4.6mm}{0.28mm}\hspace{3.4mm}2450000)},
  ylabel={Total RV (m/s)},
  xlabel style={font=\tf, at={(axis description cs:0.5,-0.084)}, anchor=center},
  ylabel style={font=\tf, at={(axis description cs:-0.0955,0.5)}, anchor=center},
  clip=true,
]
\pgfplotsinvokeforeach{1,...,6}{
  \addplot[only marks, mark=*, mark size=1.2pt, black] table[x=x,y=b#1]{\rvdata};
  \addplot[only marks, mark=*, mark size=1.2pt, red] table[x=x,y=r#1]{\rvdata};
}
% 30-day bins, observed
\addplot[black, line width=1pt, mark=none] coordinates {
(200,-5.75) (215,-5.78) (230,-5.44) (289,-5.41) (301,-5.51) (313,-5.32) (325,-5.58) (343,-5.70) (354,-5.82) (378,-5.92) (390,-5.78) (414,-5.73) (426,-5.49) (438,-5.63) (450,-5.51) (461,-5.76) (479,-5.78) (503,-5.76) (515,-5.61) (539,-5.51) (562,-5.51) (616,-5.51) (628,-5.73) (657,-5.68) (675,-5.44) (693,-4.60) (705,-4.58) (729,-4.84) (741,-4.94) (752,-4.80) (764,-4.84) (776,-4.32) (794,-4.41) (812,-4.65) (824,-4.46) (853,-4.48) (865,-4.84) (883,-4.56) (895,-4.32) (907,-3.65) (919,-3.55) (937,-3.91) (954,-3.65) (966,-3.46) (978,-3.67) (996,-3.48) (1109,-3.43) (1127,-3.22) (1133,-1.97) (1145,-1.81) (1162,-1.97) (1174,-2.47) (1210,-2.52) (1228,-2.88) (1251,-2.98) (1263,-2.74) (1281,-3.36) (1293,-2.69) (1311,-2.21) (1323,-1.25) (1335,-1.49) (1346,-0.58) (1370,-0.34) (1388,-0.78) (1406,-0.87) (1424,-1.45) (1435,-1.21) (1441,-2.21) (1453,-1.35) (1477,-1.16) (1495,-0.54) (1513,0.09) (1525,-0.11) (1549,-0.20) (1578,0.04) (1596,-0.11) (1620,0.56) (1651,1.19) (1671,0.0) (1700,0.5) (1729,1.09) (1755,1.31) (1768,1.04) (1788,-0.73) (1807,0.23) (1846,0.42) (1872,-0.58) (1905,0.80) (1939,-0.01) (1950,-0.35) (1970,-1.73) (1992,-0.32) (2010,0.06) (2028,-0.78) (2046,-0.44) (2058,-1.35) (2070,0.04) (2088,0.09) (2105,-1.06) (2129,-1.54) (2147,0.28) (2159,0.85) (2171,1.76) (2188,2.05) (2212,2.34) (2230,1.28) (2248,1.71) (2266,2.57) (2284,2.43) (2295,2.86) (2310,2.86) (2325,2.43) (2343,0.66) (2367,0.95) (2390,0.56) (2414,0.90) (2432,-0.01) (2450,-0.30) (2456,-1.30) (2474,-0.39) (2491,0.37) (2519,1.07) (2539,0.09) (2557,-0.39) (2575,-0.10) (2598,-0.58) (2616,-0.34) (2634,-0.78) (2652,-1.40) (2676,-1.88) (2699,-2.12) (2723,-2.50) (2741,-2.31) (2759,-2.83) (2777,-3.02) (2794,-2.69) (2818,-2.19) (2842,-2.50) (2866,-2.59) (2889,-2.97) (2913,-3.02) (2937,-1.90) (2955,-2.16) (2973,-2.21) (2990,-2.40) (3008,-2.83) (3025,-2.50) (3050,-3.41) (3100,-3.50) (3133,-3.89) (3167,-3.70) (3183,-4.17) (3200,-2.98) (3225,-3.12) (3250,-3.89) (3284,-3.41) (3317,-3.36) (3351,-3.70) (3384,-4.03) (3417,-4.32) (3451,-4.80) (3476,-4.56) (3501,-4.17) (3534,-3.93) (3568,-4.27) (3601,-4.37) (3635,-4.46) (3668,-5.08) (3693,-4.70) (3735,-4.89) (3768,-5.37) (3802,-5.13) (3835,-4.65) (3869,-5.03) (3902,-5.22) (3944,-5.41) (3986,-5.13) (4019,-5.41) (4069,-4.92) (4111,-5.22) (4136,-5.46) (4169,-5.45) (4200,-5.3) (4230,-5.15) (4260,-5.35) (4290,-5.7) (4320,-5.85) (4350,-5.9) (4380,-5.92)
};
% 30-day bins, model
\addplot[red, line width=1pt, mark=none] coordinates {
(200,-5.72) (212,-5.70) (230,-5.56) (301,-5.54) (325,-5.66) (343,-5.27) (360,-4.91) (372,-5.13) (390,-5.01) (402,-5.20) (420,-4.99) (438,-5.23) (455,-4.99) (479,-5.20) (503,-5.23) (521,-5.11) (545,-4.94) (610,-4.89) (628,-4.75) (645,-4.89) (663,-4.46) (681,-4.13) (699,-4.41) (717,-4.75) (735,-4.22) (752,-4.10) (776,-4.22) (800,-4.41) (818,-3.89) (853,-3.86) (865,-3.24) (883,-3.84) (901,-3.26) (913,-3.84) (925,-2.91) (943,-2.69) (954,-3.84) (966,-2.36) (981,-3.41) (990,-2.67) (1115,-2.64) (1121,-2.98) (1139,-2.16) (1156,-2.79) (1168,-2.59) (1210,-2.50) (1222,-2.12) (1240,-1.49) (1257,-2.31) (1269,-2.09) (1281,-2.55) (1293,-2.16) (1317,-2.31) (1341,-2.59) (1358,-2.45) (1382,-2.16) (1400,-2.21) (1418,-2.40) (1430,-1.73) (1447,-1.09) (1465,-1.25) (1483,-0.42) (1495,-0.11) (1513,-0.68) (1531,-0.11) (1540,-0.65) (1549,-1.11) (1560,-0.5) (1572,-0.11) (1590,-0.06) (1602,-0.55) (1614,-0.87) (1632,-0.44) (1650,-0.20) (1665,-0.7) (1679,-0.06) (1691,-1.06) (1703,-0.6) (1715,-1.35) (1730,-0.85) (1745,-0.54) (1760,-1.1) (1774,-0.97) (1786,-0.55) (1798,-0.87) (1810,-1.2) (1822,-0.87) (1836,-0.7) (1851,-1.35) (1869,-1.21) (1881,-0.8) (1893,-1.16) (1905,-0.9) (1917,-1.49) (1932,-1.1) (1947,-1.78) (1958,-1.2) (1970,-0.92) (1987,-1.54) (2000,-1.0) (2010,-0.44) (2028,-1.06) (2037,-0.7) (2046,-0.15) (2055,-0.6) (2064,-0.92) (2082,-0.73) (2094,-1.3) (2105,-1.11) (2117,-0.7) (2129,-0.78) (2141,-1.1) (2153,0.13) (2162,-0.6) (2171,-1.21) (2188,-1.35) (2197,-0.9) (2206,-0.63) (2215,-1.1) (2224,-0.06) (2233,-0.5) (2242,-1.01) (2251,-0.7) (2260,-1.25) (2272,-0.8) (2284,-1.44) (2295,-0.68) (2307,-1.2) (2319,-0.92) (2331,-0.5) (2343,-0.68) (2355,-1.0) (2367,-0.30) (2378,-0.9) (2390,-0.78) (2402,-0.45) (2414,-1.11) (2426,-0.30) (2438,-0.9) (2450,-0.54) (2468,-1.01) (2480,0.32) (2497,0.09) (2506,-0.5) (2515,-1.06) (2524,-0.6) (2533,-0.44) (2542,-0.9) (2551,-1.01) (2560,-0.7) (2569,-1.30) (2586,-1.63) (2598,-1.0) (2610,-1.16) (2628,-1.63) (2640,-1.3) (2652,-1.88) (2670,-1.97) (2693,-2.07) (2705,-2.4) (2717,-2.50) (2741,-2.69) (2759,-2.36) (2782,-2.9) (2806,-3.06) (2830,-2.69) (2854,-2.85) (2878,-3.0) (2901,-3.12) (2925,-3.26) (2950,-3.22) (2966,-3.36) (2999,-3.84) (3033,-3.50) (3066,-3.60) (3100,-3.50) (3133,-3.74) (3167,-3.84) (3200,-3.36) (3242,-2.98) (3267,-3.41) (3300,-4.03) (3334,-3.84) (3367,-3.98) (3417,-3.60) (3451,-3.84) (3484,-3.70) (3518,-3.98) (3568,-3.50) (3601,-3.55) (3635,-3.93) (3668,-4.17) (3701,-4.56) (3735,-4.70) (3768,-4.94) (3802,-4.75) (3835,-4.65) (3885,-4.84) (3919,-4.56) (3944,-3.89) (3969,-3.89) (3994,-4.56) (4019,-4.37) (4052,-4.75) (4086,-4.89) (4127,-4.94) (4169,-4.51) (4203,-4.75) (4236,-5.03) (4270,-4.94) (4303,-5.18) (4336,-5.13) (4370,-5.42) (4385,-5.45)
};
% solar reflex signal (two pieces)
\addplot[wave, line width=1.1pt, smooth, mark=none] coordinates {
(0,10.47) (67,10.395) (132,10.32) (196,10.395) (261,10.47) (325,10.395) (390,10.32) (454,10.395) (519,10.47) (583,10.395) (648,10.32) (712,10.395) (777,10.47) (841,10.395) (906,10.32) (970,10.395) (1035,10.47) (1099,10.395) (1164,10.32) (1228,10.395) (1293,10.47) (1357,10.395) (1422,10.32) (1486,10.395) (1551,10.47) (1615,10.395) (1680,10.32) (1744,10.395) (1809,10.47) (1873,10.395) (1938,10.32) (2002,10.395) (2067,10.47) (2131,10.395) (2196,10.32) (2260,10.395) (2325,10.47) (2389,10.395) (2454,10.32) (2518,10.395) (2583,10.47) (2647,10.395) (2712,10.32) (2776,10.395) (2841,10.47) (2905,10.395) (2970,10.32) (3034,10.395) (3099,10.47) (3141,10.44)
};
\addplot[wave, line width=1.1pt, smooth, mark=none] coordinates {
(3141,10.36) (3206,10.44) (3272,10.52) (3337,10.44) (3403,10.36) (3468,10.44) (3534,10.52) (3599,10.44) (3665,10.36) (3730,10.44) (3796,10.52) (3861,10.44) (3927,10.36) (3992,10.44) (4058,10.52) (4123,10.44) (4189,10.36) (4254,10.44) (4320,10.52) (4385,10.44) (4451,10.36) (4516,10.44) (4582,10.52) (4647,10.44) (4713,10.36) (4778,10.44) (4844,10.52) (4909,10.44) (4975,10.36) (4990,10.38)
};
\end{axis}
% annotations
\draw[arrowc, line width=1.8pt, -{Stealth[length=3.8mm,width=3.6mm,inset=1mm]}] (194.4mm,112.87mm) -- (180.56mm,118.37mm);
\node[anchor=base west, inner sep=0pt, font=\gillfont\fontsize{13pt}{15pt}\selectfont] at (180.35mm,107.93mm) {9 cm/s solar reflex orbital};
\node[anchor=base west, inner sep=0pt, font=\gillfont\fontsize{13pt}{15pt}\selectfont] at (180.35mm,101.7mm) {motion for 1 M$_\oplus$ planet};
\node[anchor=base west, inner sep=0pt, font=\gillfont\fontsize{13pt}{15pt}\selectfont] at (180.35mm,95.7mm) {at 1 AU};
\draw[modelred, line width=1.1mm] (178.17mm,70.25mm) -- (185.6mm,70.25mm);
\node[anchor=base west, inner sep=0pt, text=modelred, font=\bfseries\fontsize{26.4pt}{30pt}\selectfont] at (190.0mm,67.6mm) {Model};
\draw[black, line width=1.1mm] (178.17mm,58.85mm) -- (185.6mm,58.85mm);
\node[anchor=base west, inner sep=0pt, font=\bfseries\fontsize{26.4pt}{30pt}\selectfont] at (189.8mm,56.2mm) {Observed};
\node[anchor=base west, inner sep=0pt, font=\bfseries\fontsize{27pt}{30pt}\selectfont] at (98.57mm,36.03mm) {<— 30 day bins};
\end{tikzpicture}
\end{document}
